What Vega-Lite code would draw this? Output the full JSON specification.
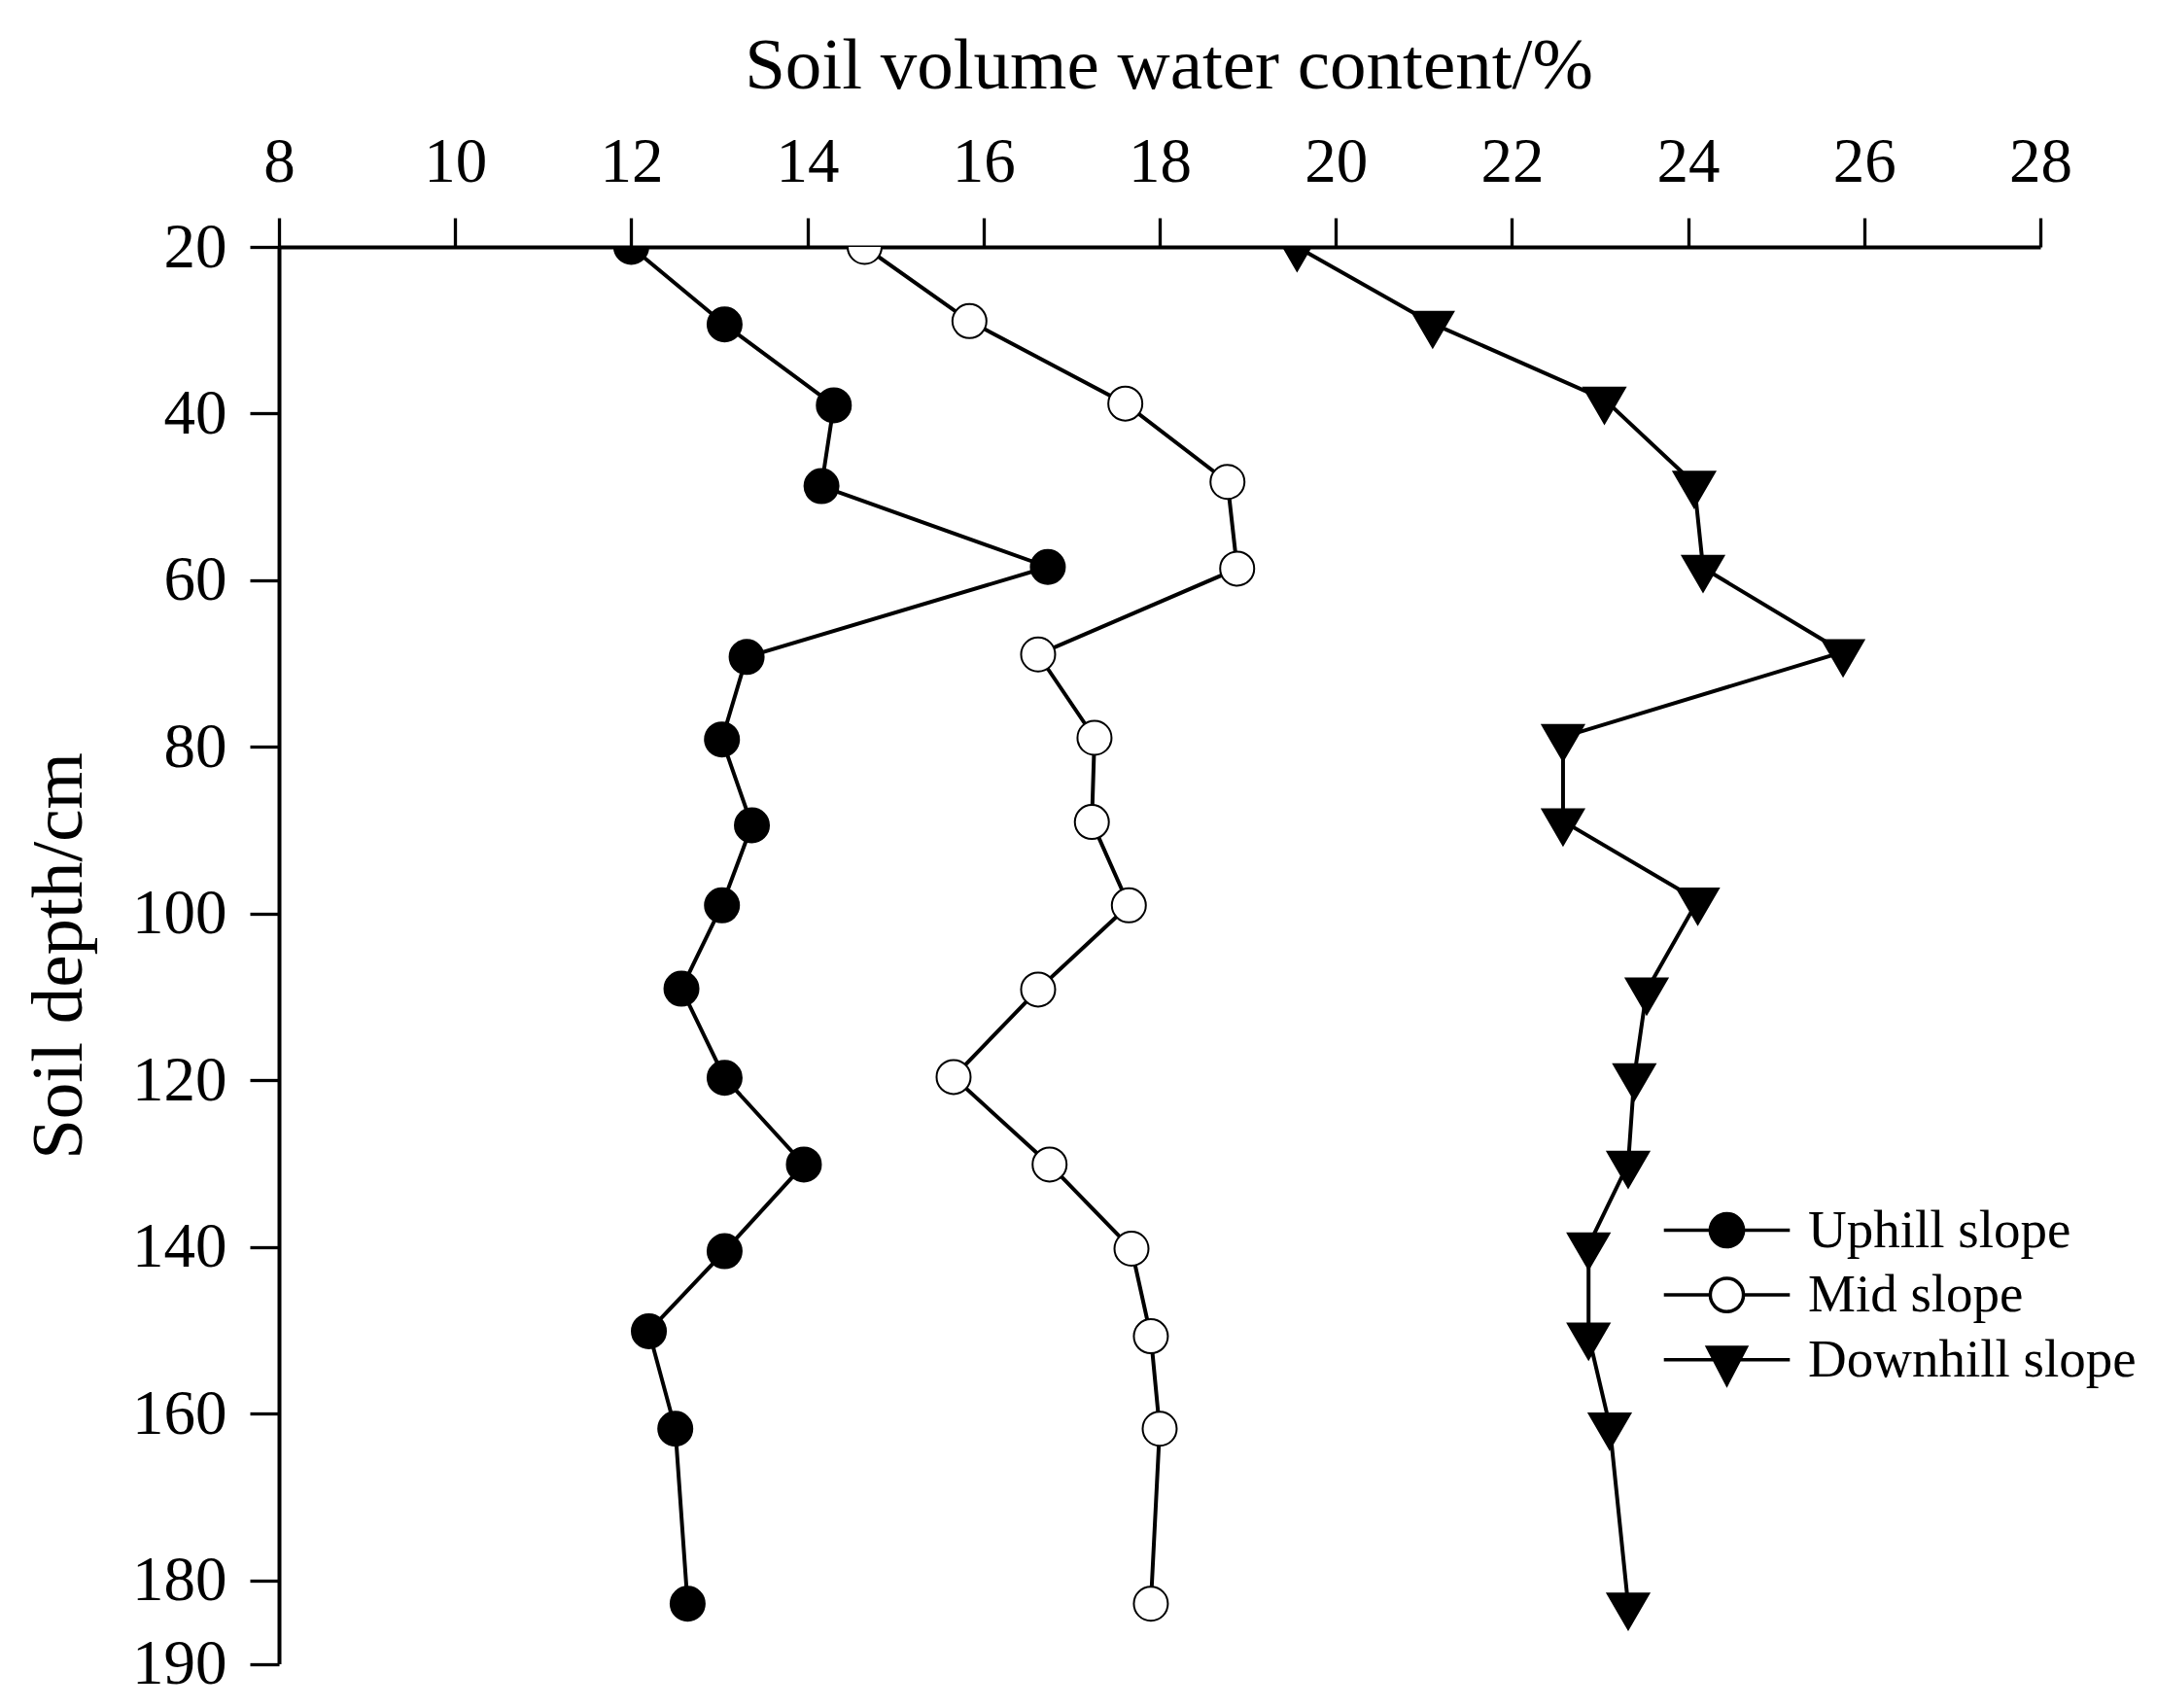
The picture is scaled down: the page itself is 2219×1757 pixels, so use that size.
{
  "$schema": "https://vega.github.io/schema/vega-lite/v6.json",
  "autosize": {"type": "none"},
  "padding": {"left": 287, "top": 254, "right": 120, "bottom": 45.5},
  "width": 1812,
  "height": 1457.5,
  "background": "white",
  "config": {
    "view": {"stroke": null},
    "axis": {
      "labelFont": "Liberation Serif",
      "labelFontSize": 65,
      "labelColor": "black",
      "labelPadding": 24,
      "domainColor": "black",
      "domainWidth": 4,
      "tickColor": "black",
      "tickWidth": 3.3,
      "tickSize": 30,
      "grid": false,
      "titleFont": "Liberation Serif",
      "titleFontSize": 75,
      "titleFontWeight": "normal",
      "titleColor": "black",
      "labelOverlap": false,
      "labelBound": false,
      "labelFlush": false
    },
    "legend": {
      "labelFont": "Liberation Serif",
      "labelFontSize": 55,
      "labelColor": "black",
      "labelLimit": 0,
      "title": null,
      "orient": "none",
      "legendX": 1462,
      "legendY": 984,
      "padding": 0,
      "symbolSize": 1296,
      "symbolStrokeWidth": 3.5,
      "symbolStrokeColor": "black",
      "symbolOpacity": 1,
      "labelOffset": 56,
      "rowPadding": 10.6
    }
  },
  "data": {
    "values": [
      {"s": "Uphill slope", "depth": 20, "w": 12.0},
      {"s": "Uphill slope", "depth": 29.3, "w": 13.06},
      {"s": "Uphill slope", "depth": 39.0, "w": 14.30},
      {"s": "Uphill slope", "depth": 48.7, "w": 14.16},
      {"s": "Uphill slope", "depth": 58.4, "w": 16.73},
      {"s": "Uphill slope", "depth": 69.2, "w": 13.31},
      {"s": "Uphill slope", "depth": 79.1, "w": 13.03},
      {"s": "Uphill slope", "depth": 89.4, "w": 13.37},
      {"s": "Uphill slope", "depth": 99.0, "w": 13.03},
      {"s": "Uphill slope", "depth": 109.0, "w": 12.57},
      {"s": "Uphill slope", "depth": 119.7, "w": 13.06},
      {"s": "Uphill slope", "depth": 130.1, "w": 13.96},
      {"s": "Uphill slope", "depth": 140.5, "w": 13.06},
      {"s": "Uphill slope", "depth": 150.1, "w": 12.20},
      {"s": "Uphill slope", "depth": 161.8, "w": 12.50},
      {"s": "Uphill slope", "depth": 182.8, "w": 12.64},
      {"s": "Mid slope", "depth": 20, "w": 14.65},
      {"s": "Mid slope", "depth": 28.9, "w": 15.84},
      {"s": "Mid slope", "depth": 38.8, "w": 17.61},
      {"s": "Mid slope", "depth": 48.2, "w": 18.77},
      {"s": "Mid slope", "depth": 58.6, "w": 18.88},
      {"s": "Mid slope", "depth": 68.9, "w": 16.62},
      {"s": "Mid slope", "depth": 78.9, "w": 17.26},
      {"s": "Mid slope", "depth": 89.0, "w": 17.23},
      {"s": "Mid slope", "depth": 99.0, "w": 17.65},
      {"s": "Mid slope", "depth": 109.1, "w": 16.62},
      {"s": "Mid slope", "depth": 119.6, "w": 15.66},
      {"s": "Mid slope", "depth": 130.1, "w": 16.75},
      {"s": "Mid slope", "depth": 140.2, "w": 17.68},
      {"s": "Mid slope", "depth": 150.7, "w": 17.90},
      {"s": "Mid slope", "depth": 161.8, "w": 18.0},
      {"s": "Mid slope", "depth": 182.8, "w": 17.90},
      {"s": "Downhill slope", "depth": 20, "w": 19.56},
      {"s": "Downhill slope", "depth": 29.2, "w": 21.10},
      {"s": "Downhill slope", "depth": 38.3, "w": 23.05},
      {"s": "Downhill slope", "depth": 48.4, "w": 24.07},
      {"s": "Downhill slope", "depth": 58.5, "w": 24.17},
      {"s": "Downhill slope", "depth": 68.6, "w": 25.76},
      {"s": "Downhill slope", "depth": 78.8, "w": 22.58},
      {"s": "Downhill slope", "depth": 88.9, "w": 22.58},
      {"s": "Downhill slope", "depth": 98.4, "w": 24.11},
      {"s": "Downhill slope", "depth": 109.2, "w": 23.53},
      {"s": "Downhill slope", "depth": 119.5, "w": 23.39},
      {"s": "Downhill slope", "depth": 130.0, "w": 23.32},
      {"s": "Downhill slope", "depth": 139.8, "w": 22.87},
      {"s": "Downhill slope", "depth": 150.6, "w": 22.87},
      {"s": "Downhill slope", "depth": 161.4, "w": 23.11},
      {"s": "Downhill slope", "depth": 183.0, "w": 23.32}
    ]
  },
  "encoding": {
    "x": {
      "field": "w",
      "type": "quantitative",
      "scale": {"domain": [8, 28], "nice": false, "zero": false},
      "axis": {
        "orient": "top",
        "values": [8, 10, 12, 14, 16, 18, 20, 22, 24, 26, 28],
        "format": "d",
        "title": "Soil volume water content/%",
        "titleX": 915,
        "titleY": -164,
        "titleAlign": "center",
        "titleBaseline": "alphabetic"
      }
    },
    "y": {
      "field": "depth",
      "type": "quantitative",
      "scale": {"domain": [20, 190], "reverse": true, "nice": false, "zero": false},
      "axis": {
        "values": [20, 40, 60, 80, 100, 120, 140, 160, 180, 190],
        "format": "d",
        "title": "Soil depth/cm",
        "titleAngle": -90,
        "titleX": -204,
        "titleY": 729,
        "titleAlign": "center",
        "titleBaseline": "alphabetic"
      }
    }
  },
  "layer": [
    {
      "mark": {"type": "line", "stroke": "black", "strokeWidth": 4, "clip": true},
      "encoding": {
        "detail": {"field": "s", "type": "nominal"},
        "order": {"field": "depth", "type": "quantitative"}
      }
    },
    {
      "transform": [{"filter": "datum.s !== 'Downhill slope'"}],
      "mark": {"type": "point", "shape": "circle", "filled": true, "stroke": "black", "strokeWidth": 2, "size": 1225, "opacity": 1, "clip": true},
      "encoding": {
        "fill": {
          "field": "s",
          "type": "nominal",
          "scale": {
            "domain": ["Uphill slope", "Mid slope", "Downhill slope"],
            "range": ["black", "white", "black"]
          }
        }
      }
    },
    {
      "transform": [{"filter": "datum.s === 'Downhill slope'"}],
      "mark": {"type": "point", "shape": "M-1.22,-0.7L1.22,-0.7L0,1.4Z", "filled": true, "fill": "black", "stroke": "black", "strokeWidth": 2, "size": 1225, "opacity": 1, "clip": true}
    },
    {
      "mark": {"type": "point", "filled": true, "opacity": 0, "strokeWidth": 3.5, "clip": true},
      "encoding": {
        "shape": {
          "field": "s",
          "type": "nominal",
          "scale": {
            "domain": ["Uphill slope", "Mid slope", "Downhill slope"],
            "range": [
              "M-3.6,0H-0.95M0.95,0H3.6M0.95,0A0.95,0.95 0 1,1 -0.95,0A0.95,0.95 0 1,1 0.95,0Z",
              "M-3.6,0H-0.95M0.95,0H3.6M0.95,0A0.95,0.95 0 1,1 -0.95,0A0.95,0.95 0 1,1 0.95,0Z",
              "M-3.6,0H3.6M-1.1,-0.7L1.1,-0.7L0,1.4Z"
            ]
          }
        },
        "fill": {
          "field": "s",
          "type": "nominal",
          "scale": {
            "domain": ["Uphill slope", "Mid slope", "Downhill slope"],
            "range": ["black", "white", "black"]
          }
        },
        "stroke": {
          "field": "s",
          "type": "nominal",
          "scale": {
            "domain": ["Uphill slope", "Mid slope", "Downhill slope"],
            "range": ["black", "black", "black"]
          }
        }
      }
    }
  ]
}
